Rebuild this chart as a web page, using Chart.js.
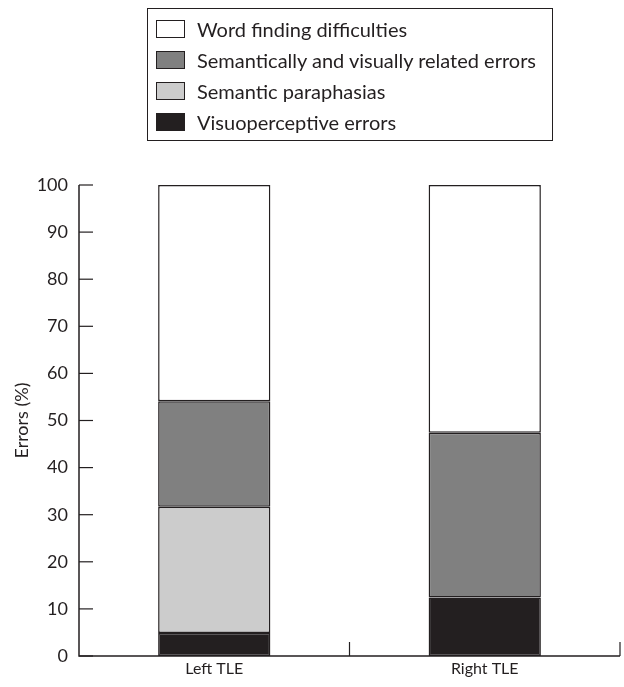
<!DOCTYPE html>
<html>
<head>
<meta charset="utf-8">
<script src="https://cdn.jsdelivr.net/npm/chart.js@4"></script>
<style>
  html, body { margin: 0; padding: 0; background: #fff; }
  #wrap { position: relative; width: 624px; height: 687px; }
  #legend {
    position: absolute; left: 147px; top: 8px; width: 406px; height: 133px;
    border: 1px solid #231f20; box-sizing: border-box;
    font-family: Lato, sans-serif; font-size: 20px; color: #231f20;
    padding-top: 4px;
  }
  .item { display: flex; align-items: center; height: 31px; padding-left: 8px; }
  .box { flex: none; width: 29px; height: 18px; border: 1.5px solid #231f20; box-sizing: border-box; margin-right: 12px; }
</style>
</head>
<body>
<div id="wrap">
  <canvas id="c" width="624" height="687"></canvas>
  <div id="legend"></div>
</div>
<script>
const categories = ["Left TLE", "Right TLE"];
const seriesNames = ["Visuoperceptive errors", "Semantic paraphasias", "Semantically and visually related errors", "Word finding difficulties"];
const visuoperceptive = [4.9, 12.4];
const semanticParaphasias = [26.8, 0];
const semVisRelated = [22.4, 35.0];
const wordFinding = [45.9, 52.6];
const yTicks = [0, 10, 20, 30, 40, 50, 60, 70, 80, 90, 100];
const colors = ["#231f20", "#cccccc", "#808080", "#ffffff"];

const seriesValues = [visuoperceptive, semanticParaphasias, semVisRelated, wordFinding];
const FONT = "Lato, sans-serif";
const ink = "#231f20";

const insideTicks = {
  id: "insideTicks",
  afterDraw(chart) {
    const ctx = chart.ctx, a = chart.chartArea;
    const ys = chart.scales.y, xs = chart.scales.x;
    ctx.save();
    ctx.strokeStyle = ink;
    ctx.lineWidth = 1.2;
    ys.ticks.forEach(t => {
      const p = ys.getPixelForValue(t.value);
      ctx.beginPath(); ctx.moveTo(a.left, p); ctx.lineTo(a.left + 14, p); ctx.stroke();
    });
    const bounds = [];
    for (let i = 0; i < categories.length - 1; i++) {
      bounds.push((xs.getPixelForValue(i) + xs.getPixelForValue(i + 1)) / 2);
    }
    bounds.push(a.right);
    bounds.forEach(b => {
      ctx.beginPath(); ctx.moveTo(b, a.bottom); ctx.lineTo(b, a.bottom - 14); ctx.stroke();
    });
    ctx.lineWidth = 1.5;
    ctx.beginPath();
    ctx.moveTo(a.left, a.top); ctx.lineTo(a.left, a.bottom); ctx.lineTo(a.right, a.bottom);
    ctx.stroke();
    ctx.restore();
  }
};

const chart = new Chart(document.getElementById("c"), {
  type: "bar",
  data: {
    labels: categories,
    datasets: seriesNames.map((n, i) => ({
      label: n,
      data: seriesValues[i],
      backgroundColor: colors[i],
      borderColor: ink,
      borderWidth: 1.5,
      borderSkipped: false,
      barPercentage: 0.415,
      categoryPercentage: 1.0
    }))
  },
  options: {
    responsive: false,
    animation: false,
    layout: { padding: { top: 185, right: 4, left: 11, bottom: 0 } },
    plugins: { legend: { display: false }, tooltip: { enabled: false } },
    scales: {
      x: {
        stacked: true,
        grid: { display: false, drawTicks: false },
        border: { display: false },
        ticks: { color: ink, font: { family: FONT, size: 16 }, padding: 3 },
        afterFit(s) { s.height = 31; }
      },
      y: {
        stacked: true,
        min: 0, max: 100,
        afterBuildTicks(s) { s.ticks = yTicks.map(v => ({ value: v })); },
        grid: { display: false, drawTicks: false },
        border: { display: false },
        ticks: { color: ink, font: { family: FONT, size: 18 }, padding: 11 },
        title: { display: true, text: "Errors (%)", color: ink, font: { family: FONT, size: 18 }, padding: { top: 0, bottom: 0 } },
        afterFit(s) { s.width = 68; }
      }
    }
  },
  plugins: [insideTicks]
});

const leg = document.getElementById("legend");
for (let i = seriesNames.length - 1; i >= 0; i--) {
  const d = document.createElement("div");
  d.className = "item";
  const b = document.createElement("span");
  b.className = "box";
  b.style.background = colors[i];
  const t = document.createElement("span");
  t.textContent = seriesNames[i];
  d.appendChild(b); d.appendChild(t);
  leg.appendChild(d);
}
</script>
</body>
</html>
